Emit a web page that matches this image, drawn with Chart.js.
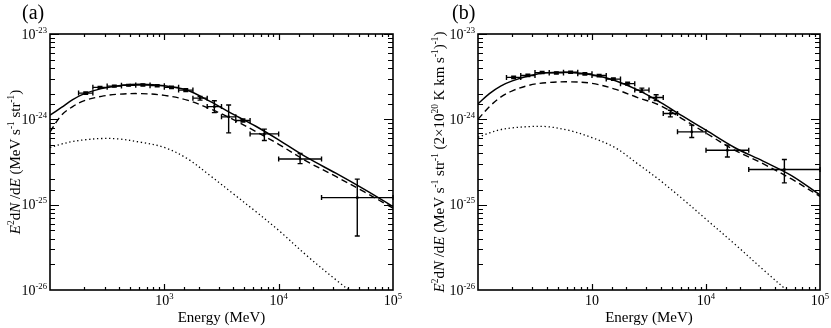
<!DOCTYPE html>
<html>
<head>
<meta charset="utf-8">
<script src="https://cdn.jsdelivr.net/npm/chart.js@4.4.1/dist/chart.umd.min.js"></script>
<style>
  html, body { margin: 0; padding: 0; background: #fff; }
  #wrap { position: relative; width: 831px; height: 328px; }
  #chartA { position: absolute; left: 0; top: 0; }
  #chartB { position: absolute; left: 428px; top: 0; }
</style>
</head>
<body>
<div id="wrap">
  <canvas id="chartA" width="428" height="328"></canvas>
  <canvas id="chartB" width="403" height="328"></canvas>
</div>
<script>
// energy bins (MeV): centres and edges of the data points
const binCentre = [205.4, 273.8, 365.2, 486.9, 649.4, 866.0, 1154.8, 1539.9, 2053.5, 2738.4, 3651.7, 4869.7, 7498.9, 15399, 48697];
const binLow    = [177.8, 237.1, 316.2, 421.7, 562.3, 749.9, 1000, 1333.5, 1778.3, 2371.4, 3162.3, 4217, 5623.4, 10000, 23714];
const binHigh   = [237.1, 316.2, 421.7, 562.3, 749.9, 1000, 1333.5, 1778.3, 2371.4, 3162.3, 4217, 5623.4, 10000, 23714, 100000];

// panel (a) data points
const aFlux     = [2.03e-24, 2.37e-24, 2.45e-24, 2.51e-24, 2.53e-24, 2.48e-24, 2.37e-24, 2.20e-24, 1.77e-24, 1.41e-24, 1.07e-24, 9.7e-25, 6.75e-25, 3.43e-25, 1.21e-25];
const aFluxLow  = [1.97e-24, 2.31e-24, 2.39e-24, 2.45e-24, 2.46e-24, 2.41e-24, 2.30e-24, 2.12e-24, 1.68e-24, 1.20e-24, 6.93e-25, 9.3e-25, 5.65e-25, 3.03e-25, 4.29e-26];
const aFluxHigh = [2.09e-24, 2.43e-24, 2.51e-24, 2.57e-24, 2.60e-24, 2.55e-24, 2.44e-24, 2.28e-24, 1.86e-24, 1.65e-24, 1.47e-24, 1.01e-24, 7.67e-25, 3.97e-25, 1.99e-25];

// panel (b) data points
const bFlux     = [3.10e-24, 3.27e-24, 3.53e-24, 3.50e-24, 3.56e-24, 3.41e-24, 3.26e-24, 2.96e-24, 2.62e-24, 2.20e-24, 1.80e-24, 1.17e-24, 7.13e-25, 4.35e-25, 2.58e-25];
const bFluxLow  = [3.00e-24, 3.17e-24, 3.43e-24, 3.40e-24, 3.46e-24, 3.31e-24, 3.16e-24, 2.86e-24, 2.52e-24, 2.08e-24, 1.66e-24, 1.07e-24, 6.12e-25, 3.62e-25, 1.80e-25];
const bFluxHigh = [3.20e-24, 3.37e-24, 3.63e-24, 3.60e-24, 3.66e-24, 3.51e-24, 3.36e-24, 3.06e-24, 2.72e-24, 2.32e-24, 1.94e-24, 1.28e-24, 8.55e-25, 4.98e-25, 3.38e-25];

// model curves, sampled energies (MeV)
const curveE = [100, 126, 158, 200, 282, 398, 631, 1000, 1585, 2512, 3981, 6310, 10000, 17783, 31623, 56234, 100000];

const aSolid  = [1.12e-24, 1.38e-24, 1.70e-24, 2.00e-24, 2.29e-24, 2.48e-24, 2.57e-24, 2.47e-24, 2.19e-24, 1.62e-24, 1.15e-24, 8.3e-25, 5.75e-25, 3.55e-25, 2.34e-25, 1.51e-25, 9.5e-26];
const aDashed = [7.1e-25, 1.12e-24, 1.41e-24, 1.66e-24, 1.86e-24, 1.97e-24, 2.00e-24, 1.91e-24, 1.68e-24, 1.33e-24, 1.00e-24, 7.2e-25, 5.1e-25, 3.2e-25, 2.14e-25, 1.41e-25, 9.1e-26];
const aDotted = [4.68e-25, 5.13e-25, 5.5e-25, 5.75e-25, 5.96e-25, 5.89e-25, 5.37e-25, 4.68e-25, 3.47e-25, 2.19e-25, 1.35e-25, 8.3e-26, 5.0e-26, 2.5e-26, 1.32e-26, 7.1e-27, 3.5e-27];

const bSolid  = [1.52e-24, 2.00e-24, 2.45e-24, 2.82e-24, 3.24e-24, 3.51e-24, 3.55e-24, 3.33e-24, 2.85e-24, 2.21e-24, 1.58e-24, 1.08e-24, 7.46e-25, 4.68e-25, 3.24e-25, 2.19e-25, 1.30e-25];
const bDashed = [1.00e-24, 1.41e-24, 1.82e-24, 2.16e-24, 2.51e-24, 2.69e-24, 2.75e-24, 2.64e-24, 2.26e-24, 1.80e-24, 1.45e-24, 1.00e-24, 6.9e-25, 4.37e-25, 3.02e-25, 2.00e-25, 1.25e-25];
const bDotted = [6.17e-25, 6.92e-25, 7.59e-25, 7.94e-25, 8.22e-25, 8.22e-25, 7.41e-25, 6.10e-25, 4.68e-25, 3.02e-25, 1.91e-25, 1.15e-25, 6.76e-26, 3.47e-26, 1.74e-26, 8.9e-27, 4.7e-27];

// tick labels: "10" with a superscript exponent
const xTickValues = [1e3, 1e4, 1e5];
const aXTickExp = ["3", "4", "5"];
const bXTickExp = ["", "4", "5"];   // panel (b) prints a bare "10" at 10^3
const yTickValues = [1e-26, 1e-25, 1e-24, 1e-23];
const yTickExp = ["-26", "-25", "-24", "-23"];

// axis titles, split into plain / italic / superscript runs
const aYTitle = [
  { t: "E", i: true }, { t: "2", sup: true }, { t: "d" }, { t: "N", i: true }, { t: " /d" }, { t: "E", i: true },
  { t: " (MeV s" }, { t: "-1", sup: true }, { t: " str" }, { t: "-1", sup: true }, { t: ")" },
];
const bYTitle = [
  { t: "E", i: true }, { t: "2", sup: true }, { t: "d" }, { t: "N", i: true }, { t: " /d" }, { t: "E", i: true },
  { t: " (MeV s" }, { t: "-1", sup: true }, { t: " str" }, { t: "-1", sup: true },
  { t: " (2×10" }, { t: "20", sup: true }, { t: " K km s" }, { t: "-1", sup: true }, { t: ")" }, { t: "-1", sup: true }, { t: ")" },
];
const xTitle = "Energy (MeV)";

const SERIF = "'Liberation Serif', 'Times New Roman', serif";

const isDecade = (v) => Math.abs(Math.log10(v) - Math.round(Math.log10(v))) < 1e-6;

const richWidth = (ctx, parts, size) => {
  let w = 0;
  parts.forEach((p) => {
    ctx.font = (p.i ? "italic " : "") + (p.sup ? size * 0.62 : size) + "px " + SERIF;
    w += ctx.measureText(p.t).width;
  });
  return w;
};

const drawRich = (ctx, parts, x, y, size) => {
  let cx = x;
  parts.forEach((p) => {
    ctx.font = (p.i ? "italic " : "") + (p.sup ? size * 0.62 : size) + "px " + SERIF;
    ctx.fillText(p.t, cx, p.sup ? y - size * 0.42 : y);
    cx += ctx.measureText(p.t).width;
  });
};

const tickParts = (exp) => (exp ? [{ t: "10" }, { t: exp, sup: true }] : [{ t: "10" }]);

// box around the plot with inward ticks on all four sides
const framePlugin = {
  id: "frame",
  afterDatasetsDraw(chart) {
    const { ctx, chartArea: a, scales } = chart;
    ctx.save();
    ctx.strokeStyle = "#000";
    ctx.lineWidth = 1.2;
    ctx.beginPath();
    scales.x.ticks.forEach((t) => {
      const px = Math.round(scales.x.getPixelForValue(t.value)) + 0.5;
      if (px <= a.left + 1 || px >= a.right - 1) return;
      const len = isDecade(t.value) ? 6 : 3;
      ctx.moveTo(px, a.bottom); ctx.lineTo(px, a.bottom - len);
      ctx.moveTo(px, a.top); ctx.lineTo(px, a.top + len);
    });
    scales.y.ticks.forEach((t) => {
      const py = Math.round(scales.y.getPixelForValue(t.value)) + 0.5;
      if (py <= a.top || py >= a.bottom) return;
      const len = isDecade(t.value) ? 9 : 5;
      ctx.moveTo(a.left, py); ctx.lineTo(a.left + len, py);
      ctx.moveTo(a.right, py); ctx.lineTo(a.right - len, py);
    });
    ctx.stroke();
    ctx.lineWidth = 1.6;
    ctx.strokeRect(a.left, a.top, a.right - a.left, a.bottom - a.top);
    ctx.restore();
  },
};

// tick labels with superscripts and the rotated y title
const axisTextPlugin = {
  id: "axisText",
  afterDraw(chart, args, opts) {
    const { ctx, chartArea: a, scales: { x, y } } = chart;
    ctx.save();
    ctx.fillStyle = "#000";
    ctx.textBaseline = "alphabetic";
    ctx.textAlign = "left";
    xTickValues.forEach((v, k) => {
      const parts = tickParts(opts.xExp[k]);
      const w = richWidth(ctx, parts, 14);
      drawRich(ctx, parts, x.getPixelForValue(v) - w / 2, a.bottom + 15, 14);
    });
    yTickValues.forEach((v, k) => {
      const parts = tickParts(yTickExp[k]);
      const w = richWidth(ctx, parts, 14);
      drawRich(ctx, parts, a.left - 3 - w, y.getPixelForValue(v) + 4.5, 14);
    });
    ctx.translate(opts.titleX, (a.top + a.bottom) / 2);
    ctx.rotate(-Math.PI / 2);
    const tw = richWidth(ctx, opts.yTitle, 15);
    drawRich(ctx, opts.yTitle, -tw / 2, 5, 15);
    ctx.restore();
    ctx.save();
    ctx.fillStyle = "#000";
    ctx.font = "20px " + SERIF;
    ctx.fillText(opts.label, opts.labelLeft, 19);
    ctx.restore();
  },
};

// x and y error bars with caps
const errorBarPlugin = {
  id: "errorBars",
  afterDatasetsDraw(chart, args, opts) {
    if (!opts.y) return;
    const { ctx, scales: { x, y } } = chart;
    const cap = 2.5;
    ctx.save();
    ctx.strokeStyle = "#000";
    ctx.lineWidth = 1.4;
    ctx.beginPath();
    opts.x.forEach((xv, i) => {
      const px = x.getPixelForValue(xv);
      const py = y.getPixelForValue(opts.y[i]);
      const xl = x.getPixelForValue(opts.xLow[i]);
      const xh = x.getPixelForValue(opts.xHigh[i]);
      const yl = y.getPixelForValue(opts.yLow[i]);
      const yh = y.getPixelForValue(opts.yHigh[i]);
      ctx.moveTo(xl, py); ctx.lineTo(xh, py);
      ctx.moveTo(xl, py - cap); ctx.lineTo(xl, py + cap);
      ctx.moveTo(xh, py - cap); ctx.lineTo(xh, py + cap);
      ctx.moveTo(px, yl); ctx.lineTo(px, yh);
      ctx.moveTo(px - cap, yl); ctx.lineTo(px + cap, yl);
      ctx.moveTo(px - cap, yh); ctx.lineTo(px + cap, yh);
    });
    ctx.stroke();
    ctx.restore();
  },
};

const toPoints = (xs, ys) => xs.map((x, i) => ({ x, y: ys[i] }));

const curve = (xs, ys, dash, width) => ({
  data: toPoints(xs, ys),
  showLine: true,
  borderColor: "#000",
  borderWidth: width,
  borderDash: dash,
  pointRadius: 0,
  tension: 0.35,
  fill: false,
});

const makePanel = (canvasId, cfg) => {
  const ctx = document.getElementById(canvasId).getContext("2d");
  return new Chart(ctx, {
    type: "scatter",
    data: {
      datasets: [
        curve(curveE, cfg.dotted, [1.3, 2.7], 1.3),
        curve(curveE, cfg.dashed, [6.5, 4], 1.4),
        curve(curveE, cfg.solid, [], 1.5),
        {
          data: toPoints(binCentre, cfg.flux),
          pointStyle: "rect",
          pointRadius: 1.7,
          pointBackgroundColor: "#000",
          pointBorderColor: "#000",
          pointBorderWidth: 0,
          showLine: false,
        },
      ],
    },
    options: {
      responsive: false,
      animation: false,
      devicePixelRatio: 1,
      layout: { padding: { top: 34, right: cfg.padRight, bottom: 0, left: 0 } },
      plugins: {
        legend: { display: false },
        tooltip: { enabled: false },
        errorBars: {
          x: binCentre, xLow: binLow, xHigh: binHigh,
          y: cfg.flux, yLow: cfg.fluxLow, yHigh: cfg.fluxHigh,
        },
        axisText: {
          xExp: cfg.xExp, yTitle: cfg.yTitle, titleX: cfg.titleX,
          label: cfg.label, labelLeft: cfg.labelLeft,
        },
      },
      scales: {
        x: {
          type: "logarithmic",
          position: "bottom",
          min: 100,
          max: 1e5,
          grid: { display: false, drawTicks: false },
          border: { display: false },
          afterFit: (s) => { s.height = 38; },
          ticks: { display: false, autoSkip: false },
          title: {
            display: true,
            text: xTitle,
            color: "#000",
            font: { family: SERIF, size: 15 },
            padding: { top: 0, bottom: 1 },
          },
        },
        y: {
          type: "logarithmic",
          position: "left",
          min: 1e-26,
          max: 1e-23,
          grid: { display: false, drawTicks: false },
          border: { display: false },
          afterFit: (s) => { s.width = 50; },
          ticks: { display: false, autoSkip: false },
        },
      },
    },
    plugins: [framePlugin, errorBarPlugin, axisTextPlugin],
  });
};

makePanel("chartA", {
  label: "(a)", labelLeft: 22, padRight: 35, titleX: 15,
  solid: aSolid, dashed: aDashed, dotted: aDotted,
  flux: aFlux, fluxLow: aFluxLow, fluxHigh: aFluxHigh,
  xExp: aXTickExp, yTitle: aYTitle,
});

makePanel("chartB", {
  label: "(b)", labelLeft: 24, padRight: 11, titleX: 11,
  solid: bSolid, dashed: bDashed, dotted: bDotted,
  flux: bFlux, fluxLow: bFluxLow, fluxHigh: bFluxHigh,
  xExp: bXTickExp, yTitle: bYTitle,
});
</script>
</body>
</html>
